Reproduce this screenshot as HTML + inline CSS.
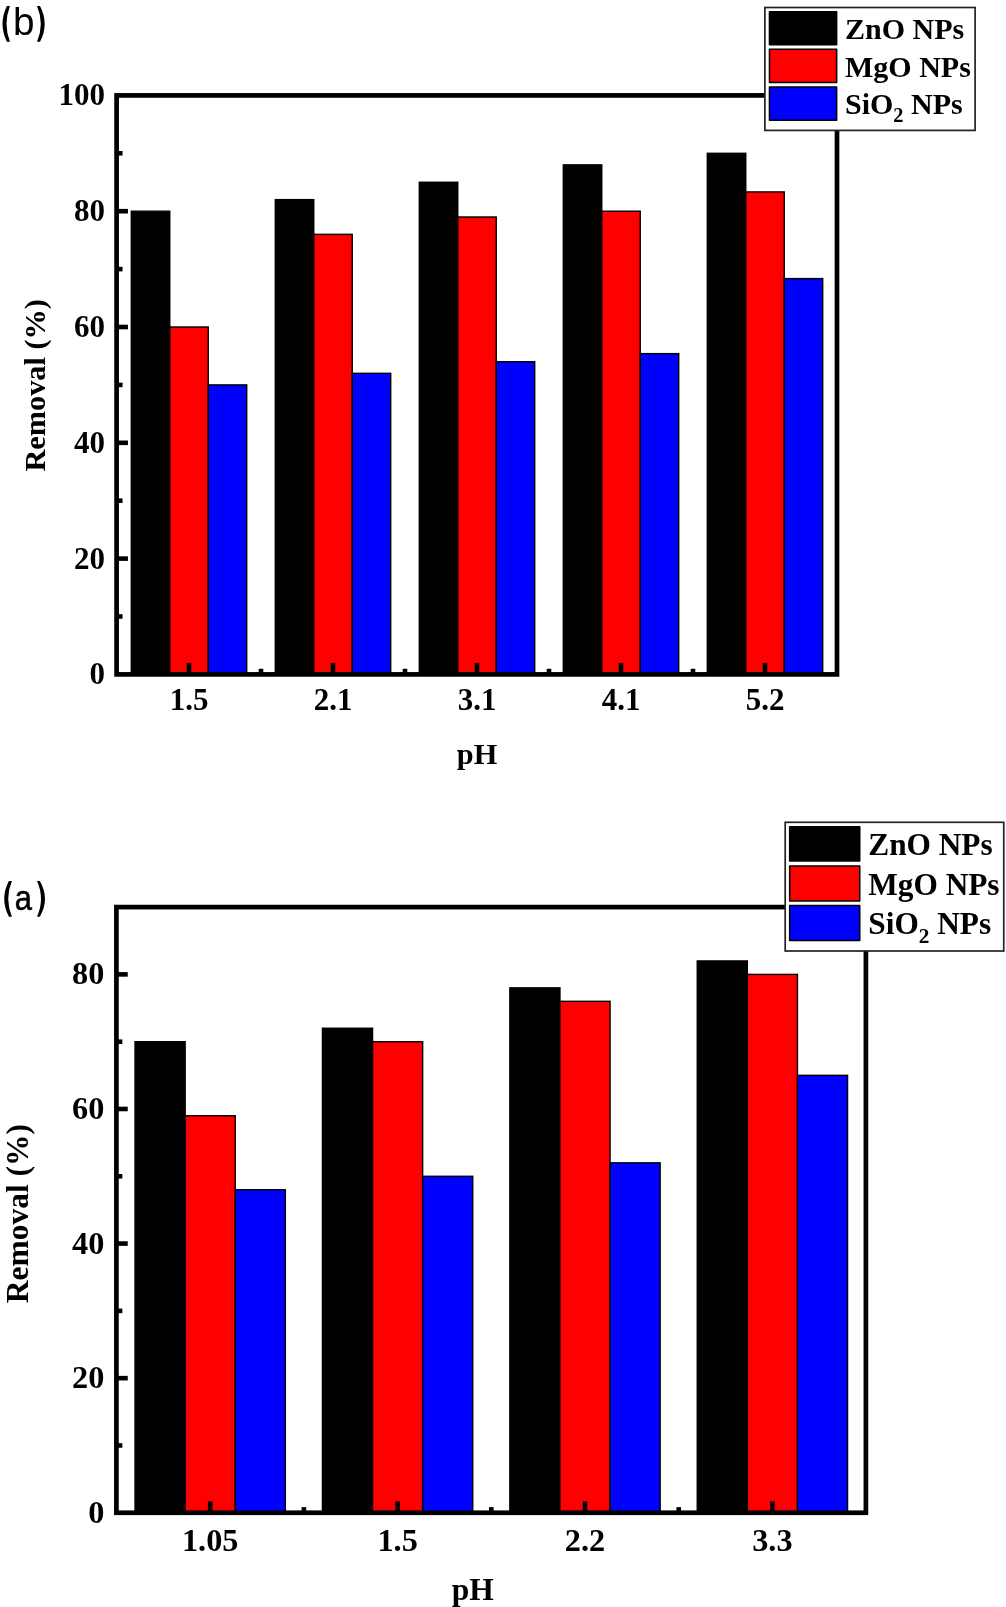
<!DOCTYPE html>
<html><head><meta charset="utf-8"><style>
html,body{margin:0;padding:0;background:#fff;}
body{width:1006px;height:1607px;overflow:hidden;}
svg{display:block;will-change:transform;}
text{font-family:"Liberation Serif", serif;font-weight:bold;fill:#000;}
text.pl{font-family:"Liberation Sans", sans-serif;font-weight:normal;}
</style></head><body>
<svg width="1006" height="1607" viewBox="0 0 1006 1607">
<rect width="1006" height="1607" fill="#fff"/>
<rect x="131.30" y="211.20" width="38.47" height="463.20" fill="#000000" stroke="#000" stroke-width="1.4"/>
<rect x="169.77" y="327.00" width="38.47" height="347.40" fill="#ff0000" stroke="#000" stroke-width="1.4"/>
<rect x="208.23" y="384.90" width="38.47" height="289.50" fill="#0000ff" stroke="#000" stroke-width="1.4"/>
<rect x="275.30" y="199.62" width="38.47" height="474.78" fill="#000000" stroke="#000" stroke-width="1.4"/>
<rect x="313.77" y="234.36" width="38.47" height="440.04" fill="#ff0000" stroke="#000" stroke-width="1.4"/>
<rect x="352.23" y="373.32" width="38.47" height="301.08" fill="#0000ff" stroke="#000" stroke-width="1.4"/>
<rect x="419.30" y="182.25" width="38.47" height="492.15" fill="#000000" stroke="#000" stroke-width="1.4"/>
<rect x="457.77" y="216.99" width="38.47" height="457.41" fill="#ff0000" stroke="#000" stroke-width="1.4"/>
<rect x="496.23" y="361.74" width="38.47" height="312.66" fill="#0000ff" stroke="#000" stroke-width="1.4"/>
<rect x="563.30" y="164.88" width="38.47" height="509.52" fill="#000000" stroke="#000" stroke-width="1.4"/>
<rect x="601.77" y="211.20" width="38.47" height="463.20" fill="#ff0000" stroke="#000" stroke-width="1.4"/>
<rect x="640.23" y="353.63" width="38.47" height="320.77" fill="#0000ff" stroke="#000" stroke-width="1.4"/>
<rect x="707.30" y="153.30" width="38.47" height="521.10" fill="#000000" stroke="#000" stroke-width="1.4"/>
<rect x="745.77" y="191.92" width="38.47" height="482.48" fill="#ff0000" stroke="#000" stroke-width="1.4"/>
<rect x="784.23" y="278.60" width="38.47" height="395.80" fill="#0000ff" stroke="#000" stroke-width="1.4"/>
<line x1="116.60" y1="616.50" x2="122.55" y2="616.50" stroke="#000" stroke-width="4.6"/>
<line x1="116.60" y1="558.60" x2="127.95" y2="558.60" stroke="#000" stroke-width="4.6"/>
<line x1="116.60" y1="500.70" x2="122.55" y2="500.70" stroke="#000" stroke-width="4.6"/>
<line x1="116.60" y1="442.80" x2="127.95" y2="442.80" stroke="#000" stroke-width="4.6"/>
<line x1="116.60" y1="384.90" x2="122.55" y2="384.90" stroke="#000" stroke-width="4.6"/>
<line x1="116.60" y1="327.00" x2="127.95" y2="327.00" stroke="#000" stroke-width="4.6"/>
<line x1="116.60" y1="269.10" x2="122.55" y2="269.10" stroke="#000" stroke-width="4.6"/>
<line x1="116.60" y1="211.20" x2="127.95" y2="211.20" stroke="#000" stroke-width="4.6"/>
<line x1="116.60" y1="153.30" x2="122.55" y2="153.30" stroke="#000" stroke-width="4.6"/>
<line x1="189.00" y1="674.40" x2="189.00" y2="663.05" stroke="#000" stroke-width="4.6"/>
<line x1="333.00" y1="674.40" x2="333.00" y2="663.05" stroke="#000" stroke-width="4.6"/>
<line x1="261.00" y1="674.40" x2="261.00" y2="668.75" stroke="#000" stroke-width="4.6"/>
<line x1="477.00" y1="674.40" x2="477.00" y2="663.05" stroke="#000" stroke-width="4.6"/>
<line x1="405.00" y1="674.40" x2="405.00" y2="668.75" stroke="#000" stroke-width="4.6"/>
<line x1="621.00" y1="674.40" x2="621.00" y2="663.05" stroke="#000" stroke-width="4.6"/>
<line x1="549.00" y1="674.40" x2="549.00" y2="668.75" stroke="#000" stroke-width="4.6"/>
<line x1="765.00" y1="674.40" x2="765.00" y2="663.05" stroke="#000" stroke-width="4.6"/>
<line x1="693.00" y1="674.40" x2="693.00" y2="668.75" stroke="#000" stroke-width="4.6"/>
<rect x="116.60" y="95.40" width="720.40" height="579.00" fill="none" stroke="#000" stroke-width="4.7" stroke-linejoin="miter"/>
<text x="105.00" y="684.30" text-anchor="end" font-size="31.0">0</text>
<text x="105.00" y="568.50" text-anchor="end" font-size="31.0">20</text>
<text x="105.00" y="452.70" text-anchor="end" font-size="31.0">40</text>
<text x="105.00" y="336.90" text-anchor="end" font-size="31.0">60</text>
<text x="105.00" y="221.10" text-anchor="end" font-size="31.0">80</text>
<text x="105.00" y="105.30" text-anchor="end" font-size="31.0">100</text>
<text x="189.00" y="710.00" text-anchor="middle" font-size="31.0">1.5</text>
<text x="333.00" y="710.00" text-anchor="middle" font-size="31.0">2.1</text>
<text x="477.00" y="710.00" text-anchor="middle" font-size="31.0">3.1</text>
<text x="621.00" y="710.00" text-anchor="middle" font-size="31.0">4.1</text>
<text x="765.00" y="710.00" text-anchor="middle" font-size="31.0">5.2</text>
<text x="477.00" y="764.00" text-anchor="middle" font-size="30.3">pH</text>
<text transform="translate(44.80,385.30) rotate(-90)" text-anchor="middle" font-size="30.3">Removal (%)</text>
<rect x="764.90" y="7.50" width="210.20" height="122.90" fill="#fff" stroke="#222" stroke-width="1.7"/>
<rect x="769.45" y="11.65" width="67.20" height="33.00" fill="#000000" stroke="#000" stroke-width="1.5" stroke-linejoin="round"/>
<text x="845.00" y="39.00" font-size="30.0">ZnO NPs</text>
<rect x="769.45" y="49.15" width="67.20" height="33.40" fill="#ff0000" stroke="#000" stroke-width="1.5" stroke-linejoin="round"/>
<text x="845.00" y="76.90" font-size="30.0">MgO NPs</text>
<rect x="769.45" y="87.05" width="67.20" height="33.20" fill="#0000ff" stroke="#000" stroke-width="1.5" stroke-linejoin="round"/>
<text x="845.00" y="113.80" font-size="30.0">SiO<tspan font-size="20.4" dy="8.4">2</tspan><tspan dy="-8.4"> NPs</tspan></text>
<path d="M9.95,5.90 L6.90,5.90 Q-1.90,23.85 6.90,41.80 L9.95,41.80 Q3.05,23.85 9.95,5.90 Z" fill="#000"/>
<path d="M37.00,5.90 L40.00,5.90 Q49.40,23.85 40.00,41.80 L37.00,41.80 Q44.60,23.85 37.00,5.90 Z" fill="#000"/>
<text class="pl" font-size="39.3" transform="translate(13.06,34.80) scale(0.985,1)">b</text>
<rect x="135.05" y="1041.69" width="50.10" height="471.06" fill="#000000" stroke="#000" stroke-width="1.4"/>
<rect x="185.15" y="1115.71" width="50.10" height="397.04" fill="#ff0000" stroke="#000" stroke-width="1.4"/>
<rect x="235.25" y="1189.74" width="50.10" height="323.01" fill="#0000ff" stroke="#000" stroke-width="1.4"/>
<rect x="322.45" y="1028.23" width="50.10" height="484.52" fill="#000000" stroke="#000" stroke-width="1.4"/>
<rect x="372.55" y="1041.69" width="50.10" height="471.06" fill="#ff0000" stroke="#000" stroke-width="1.4"/>
<rect x="422.65" y="1176.28" width="50.10" height="336.47" fill="#0000ff" stroke="#000" stroke-width="1.4"/>
<rect x="509.85" y="987.85" width="50.10" height="524.90" fill="#000000" stroke="#000" stroke-width="1.4"/>
<rect x="559.95" y="1001.31" width="50.10" height="511.44" fill="#ff0000" stroke="#000" stroke-width="1.4"/>
<rect x="610.05" y="1162.82" width="50.10" height="349.93" fill="#0000ff" stroke="#000" stroke-width="1.4"/>
<rect x="697.25" y="960.94" width="50.10" height="551.81" fill="#000000" stroke="#000" stroke-width="1.4"/>
<rect x="747.35" y="974.39" width="50.10" height="538.36" fill="#ff0000" stroke="#000" stroke-width="1.4"/>
<rect x="797.45" y="1075.34" width="50.10" height="437.41" fill="#0000ff" stroke="#000" stroke-width="1.4"/>
<line x1="116.40" y1="1445.46" x2="122.35" y2="1445.46" stroke="#000" stroke-width="4.6"/>
<line x1="116.40" y1="1378.16" x2="127.75" y2="1378.16" stroke="#000" stroke-width="4.6"/>
<line x1="116.40" y1="1310.87" x2="122.35" y2="1310.87" stroke="#000" stroke-width="4.6"/>
<line x1="116.40" y1="1243.57" x2="127.75" y2="1243.57" stroke="#000" stroke-width="4.6"/>
<line x1="116.40" y1="1176.28" x2="122.35" y2="1176.28" stroke="#000" stroke-width="4.6"/>
<line x1="116.40" y1="1108.98" x2="127.75" y2="1108.98" stroke="#000" stroke-width="4.6"/>
<line x1="116.40" y1="1041.69" x2="122.35" y2="1041.69" stroke="#000" stroke-width="4.6"/>
<line x1="116.40" y1="974.39" x2="127.75" y2="974.39" stroke="#000" stroke-width="4.6"/>
<line x1="210.20" y1="1512.75" x2="210.20" y2="1501.40" stroke="#000" stroke-width="4.6"/>
<line x1="397.60" y1="1512.75" x2="397.60" y2="1501.40" stroke="#000" stroke-width="4.6"/>
<line x1="303.90" y1="1512.75" x2="303.90" y2="1507.10" stroke="#000" stroke-width="4.6"/>
<line x1="585.00" y1="1512.75" x2="585.00" y2="1501.40" stroke="#000" stroke-width="4.6"/>
<line x1="491.30" y1="1512.75" x2="491.30" y2="1507.10" stroke="#000" stroke-width="4.6"/>
<line x1="772.40" y1="1512.75" x2="772.40" y2="1501.40" stroke="#000" stroke-width="4.6"/>
<line x1="678.70" y1="1512.75" x2="678.70" y2="1507.10" stroke="#000" stroke-width="4.6"/>
<rect x="116.40" y="907.10" width="749.50" height="605.65" fill="none" stroke="#000" stroke-width="4.7" stroke-linejoin="miter"/>
<text x="104.30" y="1522.75" text-anchor="end" font-size="32.3">0</text>
<text x="104.30" y="1388.16" text-anchor="end" font-size="32.3">20</text>
<text x="104.30" y="1253.57" text-anchor="end" font-size="32.3">40</text>
<text x="104.30" y="1118.98" text-anchor="end" font-size="32.3">60</text>
<text x="104.30" y="984.39" text-anchor="end" font-size="32.3">80</text>
<text x="210.20" y="1551.00" text-anchor="middle" font-size="32.3">1.05</text>
<text x="397.60" y="1551.00" text-anchor="middle" font-size="32.3">1.5</text>
<text x="585.00" y="1551.00" text-anchor="middle" font-size="32.3">2.2</text>
<text x="772.40" y="1551.00" text-anchor="middle" font-size="32.3">3.3</text>
<text x="472.80" y="1600.00" text-anchor="middle" font-size="31.5">pH</text>
<text transform="translate(27.50,1213.60) rotate(-90)" text-anchor="middle" font-size="31.5">Removal (%)</text>
<rect x="785.20" y="822.30" width="218.55" height="128.70" fill="#fff" stroke="#222" stroke-width="1.7"/>
<rect x="789.65" y="826.65" width="70.10" height="34.30" fill="#000000" stroke="#000" stroke-width="1.5" stroke-linejoin="round"/>
<text x="868.30" y="855.00" font-size="31.3">ZnO NPs</text>
<rect x="789.65" y="865.95" width="70.10" height="35.10" fill="#ff0000" stroke="#000" stroke-width="1.5" stroke-linejoin="round"/>
<text x="868.30" y="895.10" font-size="31.3">MgO NPs</text>
<rect x="789.65" y="905.55" width="70.10" height="34.90" fill="#0000ff" stroke="#000" stroke-width="1.5" stroke-linejoin="round"/>
<text x="868.30" y="934.00" font-size="31.3">SiO<tspan font-size="21.3" dy="9">2</tspan><tspan dy="-9"> NPs</tspan></text>
<path d="M11.90,881.00 L8.90,881.00 Q-0.50,898.85 8.90,916.70 L11.90,916.70 Q4.50,898.85 11.90,881.00 Z" fill="#000"/>
<path d="M37.00,881.00 L39.80,881.00 Q50.20,898.85 39.80,916.70 L37.00,916.70 Q45.00,898.85 37.00,881.00 Z" fill="#000"/>
<text class="pl" font-size="36.0" stroke="#000" stroke-width="0.55" transform="translate(14.70,909.90) scale(0.86,1)">a</text>
</svg>
</body></html>
